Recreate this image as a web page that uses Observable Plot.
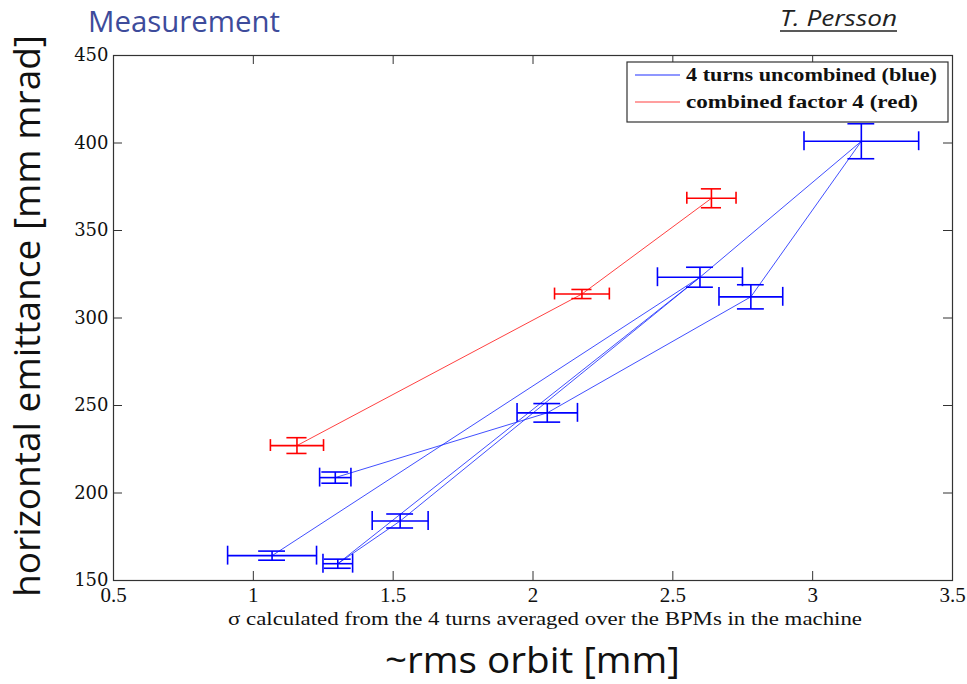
<!DOCTYPE html>
<html><head><meta charset="utf-8">
<script src="https://cdn.jsdelivr.net/npm/d3@7"></script>
<script src="https://cdn.jsdelivr.net/npm/@observablehq/plot@0.6"></script>
<style>body{margin:0;background:#fff;} #chart{width:967px;height:684px;}</style>
</head><body><div id="chart"></div>
<script>
// axis ticks
const xTicks = [0.5, 1, 1.5, 2, 2.5, 3, 3.5];
const yTicks = [150, 200, 250, 300, 350, 400, 450];

// "4 turns uncombined (blue)" : measured points with error bars
const blueX    = [3.174, 2.597, 2.779, 2.051, 1.293, 1.525, 1.067, 1.302];
const blueY    = [401.0, 323.3, 312.1, 245.8, 208.8, 184.0, 164.2, 159.6];
const blueXErr = [0.205, 0.152, 0.114, 0.108, 0.056, 0.100, 0.159, 0.053];
const blueYErr = [10.0, 5.7, 6.9, 5.3, 3.2, 4.0, 2.6, 2.6];
// order in which the blue points are connected
const bluePathOrder = [4, 3, 2, 0, 1, 7, 5, 1, 6];

// "combined factor 4 (red)"
const redX    = [1.156, 2.175, 2.638];
const redY    = [227.1, 313.7, 368.4];
const redXErr = [0.095, 0.098, 0.088];
const redYErr = [4.5, 2.6, 5.4];

const legendLabels = ["4 turns uncombined (blue)", "combined factor 4 (red)"];

const blue = blueX.map((x, i) => ({x, y: blueY[i], xe: blueXErr[i], ye: blueYErr[i]}));
const red = redX.map((x, i) => ({x, y: redY[i], xe: redXErr[i], ye: redYErr[i]}));
const bluePath = bluePathOrder.map(i => blue[i]);

function errorBars(data, color, capX, capY, sw) {
  return [
    Plot.link(data, {x1: d => d.x - d.xe, x2: d => d.x + d.xe, y1: "y", y2: "y", stroke: color, strokeWidth: sw}),
    Plot.link(data, {x1: "x", x2: "x", y1: d => d.y - d.ye, y2: d => d.y + d.ye, stroke: color, strokeWidth: sw}),
    Plot.ruleX(data, {x: d => d.x - d.xe, y1: d => d.y - capY, y2: d => d.y + capY, stroke: color, strokeWidth: sw}),
    Plot.ruleX(data, {x: d => d.x + d.xe, y1: d => d.y - capY, y2: d => d.y + capY, stroke: color, strokeWidth: sw}),
    Plot.ruleY(data, {y: d => d.y - d.ye, x1: d => d.x - capX, x2: d => d.x + capX, stroke: color, strokeWidth: sw}),
    Plot.ruleY(data, {y: d => d.y + d.ye, x1: d => d.x - capX, x2: d => d.x + capX, stroke: color, strokeWidth: sw})
  ];
}

const W = 967, H = 684, mt = 55, ml = 113, mr = 15, mb = 104;
const plotW = W - ml - mr, plotH = H - mt - mb, tick = 9;

const svgEl = Plot.plot({
  width: W, height: H,
  marginTop: mt, marginLeft: ml, marginRight: mr, marginBottom: mb,
  x: {domain: [0.5, 3.5]},
  y: {domain: [150, 450]},
  style: {background: "white", overflow: "visible"},
  marks: [
    Plot.line(red, {x: "x", y: "y", stroke: "#ff2020", strokeWidth: 1, strokeOpacity: 0.85}),
    Plot.line(bluePath, {x: "x", y: "y", stroke: "#2030ff", strokeWidth: 1, strokeOpacity: 0.85}),
    ...errorBars(blue, "#0000ff", 0.048, 5.4, 1.6),
    ...errorBars(red, "#ff0000", 0.036, 3.4, 1.6),
    Plot.ruleX(xTicks, {x: d => d, insetTop: plotH - tick, stroke: "#333"}),
    Plot.ruleX(xTicks, {x: d => d, insetBottom: plotH - tick, stroke: "#333"}),
    Plot.ruleY(yTicks, {y: d => d, insetRight: plotW - tick, stroke: "#333"}),
    Plot.ruleY(yTicks, {y: d => d, insetLeft: plotW - tick, stroke: "#333"}),
    Plot.frame({stroke: "#333", strokeWidth: 1.2}),
    Plot.axisX(xTicks, {tickSize: 0, tickPadding: 7, tickFormat: d => String(d), fontSize: 21, fontFamily: "Liberation Serif", fill: "#111", label: null}),
    Plot.axisY(yTicks, {tickSize: 0, tickPadding: 5, tickFormat: d => String(d), fontSize: 18, fontFamily: "DejaVu Serif", fill: "#111", label: null})
  ]
});

const svg = d3.select(svgEl);
function addText(t, x, y, opts) {
  const el = svg.append("text").attr("x", x).attr("y", y).text(t)
    .attr("font-family", opts.family).attr("font-size", opts.size)
    .attr("fill", opts.fill || "#111")
    .attr("text-anchor", opts.anchor || "start");
  if (opts.weight) el.attr("font-weight", opts.weight);
  if (opts.style) el.attr("font-style", opts.style);
  if (opts.len) el.attr("textLength", opts.len).attr("lengthAdjust", "spacingAndGlyphs");
  if (opts.rotate) el.attr("transform", `rotate(${opts.rotate},${x},${y})`);
  return el;
}

// title and author
addText("Measurement", 88, 32, {family: "Open Sans", size: 30, fill: "#3d4b9b", len: 192});
addText("T. Persson", 780, 26, {family: "Open Sans", size: 21, style: "italic", fill: "#222", len: 117});
svg.append("line").attr("x1", 780).attr("x2", 897).attr("y1", 31).attr("y2", 31).attr("stroke", "#222").attr("stroke-width", 1.5);

// axis titles
addText("σ calculated from the 4 turns averaged over the BPMs in the machine", 228, 625, {family: "Liberation Serif", size: 18, len: 634});
addText("~rms orbit [mm]", 385, 673, {family: "Open Sans", size: 37, len: 295});
addText("horizontal emittance [mm mrad]", 40, 597, {family: "Open Sans", size: 37, len: 562, rotate: -90});

// legend
const lg = svg.append("g");
lg.append("rect").attr("x", 627).attr("y", 62).attr("width", 321).attr("height", 60)
  .attr("fill", "white").attr("stroke", "#333").attr("stroke-width", 1.2);
lg.append("line").attr("x1", 635).attr("x2", 680).attr("y1", 75).attr("y2", 75).attr("stroke", "#2030ff").attr("stroke-width", 1.2);
lg.append("line").attr("x1", 635).attr("x2", 680).attr("y1", 102).attr("y2", 102).attr("stroke", "#ff4040").attr("stroke-width", 1.2);
addText(legendLabels[0], 686, 81, {family: "Liberation Serif", size: 19, weight: "bold", len: 251});
addText(legendLabels[1], 686, 108, {family: "Liberation Serif", size: 19, weight: "bold", len: 232});

document.getElementById("chart").appendChild(svgEl);
</script>
</body></html>
